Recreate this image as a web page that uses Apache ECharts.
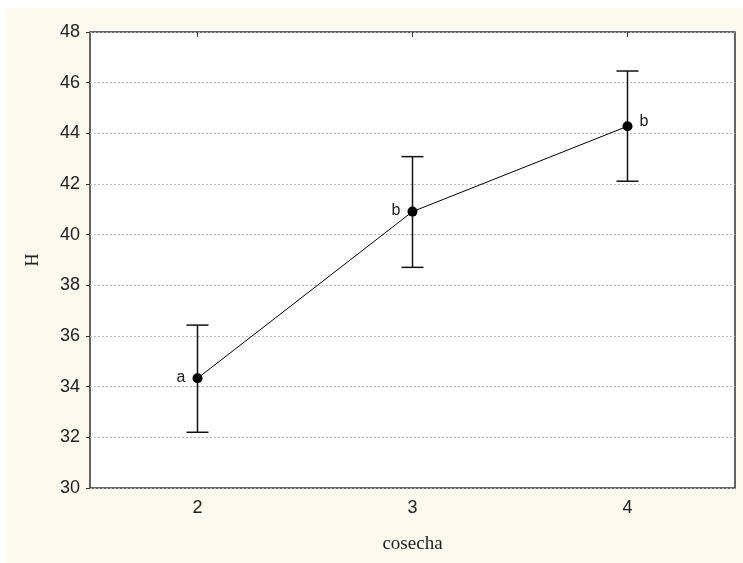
<!DOCTYPE html>
<html>
<head>
<meta charset="utf-8">
<script src="https://cdn.jsdelivr.net/npm/echarts@6/dist/echarts.min.js"></script>
<style>
html,body{margin:0;padding:0;background:#ffffff;}
#chart{width:743px;height:563px;}
</style>
</head>
<body>
<div id="chart"></div>
<script>
var categories = ['2', '3', '4'];
var means = [34.33, 40.91, 44.28];
var upper = [36.43, 43.08, 46.46];
var lower = [32.20, 38.71, 42.11];
var letters = ['a', 'b', 'b'];
var yTicks = [30, 32, 34, 36, 38, 40, 42, 44, 46, 48];

var chart = echarts.init(document.getElementById('chart'));

var errData = categories.map(function (c, i) { return [i, lower[i], upper[i]]; });
var labelPos = ['left', 'left', 'right'];

var option = {
  backgroundColor: '#ffffff',
  animation: false,
  graphic: [{
    type: 'rect', z: -100, silent: true,
    shape: { x: 7, y: 8, width: 743, height: 563 },
    style: { fill: '#fdf9ef' }
  }],
  grid: {
    left: 90, top: 32, right: 8, bottom: 75,
    show: true, backgroundColor: '#ffffff', borderColor: '#333333', borderWidth: 1.5
  },
  xAxis: [{
    type: 'category', data: categories, boundaryGap: true,
    name: 'cosecha', nameLocation: 'middle', nameGap: 47,
    nameTextStyle: { fontFamily: 'Liberation Serif', fontSize: 19, color: '#222' },
    axisLine: { show: false },
    axisTick: { show: false },
    axisLabel: { fontFamily: 'Liberation Sans', fontSize: 18, color: '#222', margin: 11 },
    splitLine: { show: false }
  }, {
    type: 'category', data: categories, boundaryGap: true, position: 'top',
    axisLine: { show: false },
    axisTick: { show: true, inside: true, length: 5, alignWithLabel: true, lineStyle: { color: '#333' } },
    axisLabel: { show: false }
  }],
  yAxis: {
    type: 'value', min: 30, max: 48, interval: 2,
    name: 'H', nameLocation: 'middle', nameGap: 48, nameRotate: 90,
    nameTextStyle: { fontFamily: 'Liberation Serif', fontSize: 18, color: '#222' },
    axisLine: { show: false },
    axisTick: { show: true, length: 4, lineStyle: { color: '#333' } },
    axisLabel: { fontFamily: 'Liberation Sans', fontSize: 18, color: '#222', margin: 10,
      formatter: function (v) { return yTicks.indexOf(v) >= 0 ? String(v) : ''; } },
    splitLine: { show: true, lineStyle: { color: '#b8b8b8', type: [2, 2], width: 1 } }
  },
  series: [{
    type: 'custom',
    data: errData,
    z: 3,
    renderItem: function (params, api) {
      var x = api.value(0);
      var lo = api.coord([x, api.value(1)]);
      var hi = api.coord([x, api.value(2)]);
      var hw = 11;
      var st = { stroke: '#111', lineWidth: 1.5 };
      return {
        type: 'group',
        children: [
          { type: 'line', shape: { x1: lo[0], y1: lo[1], x2: hi[0], y2: hi[1] }, style: st },
          { type: 'line', shape: { x1: lo[0] - hw, y1: lo[1], x2: lo[0] + hw, y2: lo[1] }, style: st },
          { type: 'line', shape: { x1: hi[0] - hw, y1: hi[1], x2: hi[0] + hw, y2: hi[1] }, style: st }
        ]
      };
    }
  }, {
    type: 'line',
    data: means.map(function (m, i) {
      return {
        value: m,
        label: { show: true, position: labelPos[i], formatter: letters[i], distance: 7,
          fontFamily: 'Liberation Sans', fontSize: 16, color: '#222', offset: [0, i === 2 ? -5 : -1] }
      };
    }),
    z: 4,
    symbol: 'circle', symbolSize: 10,
    itemStyle: { color: '#000' },
    lineStyle: { color: '#000', width: 1 }
  }]
};
chart.setOption(option);
</script>
</body>
</html>
